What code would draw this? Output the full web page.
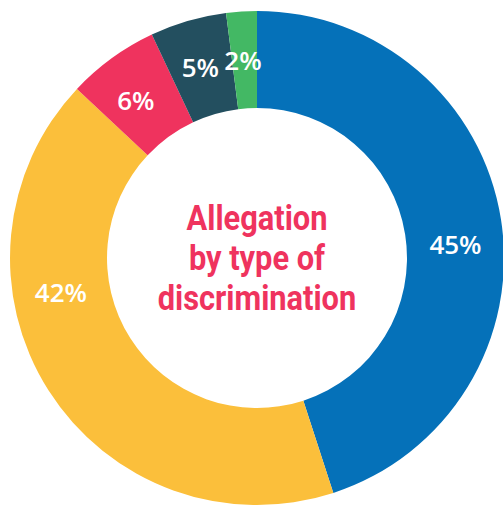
<!DOCTYPE html>
<html>
<head>
<meta charset="utf-8">
<script src="https://cdn.jsdelivr.net/npm/d3@7"></script>
<style>
  html, body { margin: 0; padding: 0; background: #fff; }
  svg { display: block; }
</style>
</head>
<body>
<div id="chart"></div>
<script>
// data
const categories = ['Type A', 'Type B', 'Type C', 'Type D', 'Type E'];
const shares = [45, 42, 6, 5, 2];
const labels = ['45%', '42%', '6%', '5%', '2%'];
const titleLines = ['Allegation', 'by type of', 'discrimination'];

// styles
const colors = ['#0571b9', '#fbbf3b', '#ef335e', '#234f5f', '#43b864'];
// where each label sits inside its slice (fraction of the slice angle)
const labelFrac = [0.53, 0.65, 0.43, 0.48, 0.44];

const width = 503;
const height = 506;
const cx = 257;
const cy = 258;
const outerR = 247;
const innerR = 150;
const labelR = 199;

const svg = d3
  .select('#chart')
  .append('svg')
  .attr('width', width)
  .attr('height', height);

const g = svg.append('g').attr('transform', `translate(${cx}, ${cy})`);

const pie = d3
  .pie()
  .sort(null)
  .value(d => d);

const arcs = pie(shares);

const arc = d3
  .arc()
  .innerRadius(innerR)
  .outerRadius(outerR);

/* slices */
g.selectAll('path.slice')
  .data(arcs)
  .enter()
  .append('path')
  .attr('class', 'slice')
  .attr('d', arc)
  .attr('fill', (d, i) => colors[i]);

/* labels */
g.selectAll('text.label')
  .data(arcs)
  .enter()
  .append('text')
  .attr('class', 'label')
  .attr('x', (d, i) => {
    const a = d.startAngle + (d.endAngle - d.startAngle) * labelFrac[i];
    return labelR * Math.sin(a);
  })
  .attr('y', (d, i) => {
    const a = d.startAngle + (d.endAngle - d.startAngle) * labelFrac[i];
    return -labelR * Math.cos(a);
  })
  .attr('text-anchor', 'middle')
  .attr('dominant-baseline', 'central')
  .attr('fill', '#fff')
  .style('font-family', "'Open Sans', sans-serif")
  .style('font-weight', 600)
  .style('font-size', '26px')
  .text((d, i) => labels[i]);

/* centre title */
const title = g
  .append('g')
  .attr('transform', 'scale(0.88, 1)');

title
  .selectAll('text')
  .data(titleLines)
  .enter()
  .append('text')
  .attr('x', 0)
  .attr('y', (d, i) => (i - 1) * 40 + 12)
  .attr('text-anchor', 'middle')
  .attr('fill', '#ef335e')
  .style('font-family', 'Roboto, sans-serif')
  .style('font-weight', 700)
  .style('font-size', '35px')
  .text(d => d);
</script>
</body>
</html>
